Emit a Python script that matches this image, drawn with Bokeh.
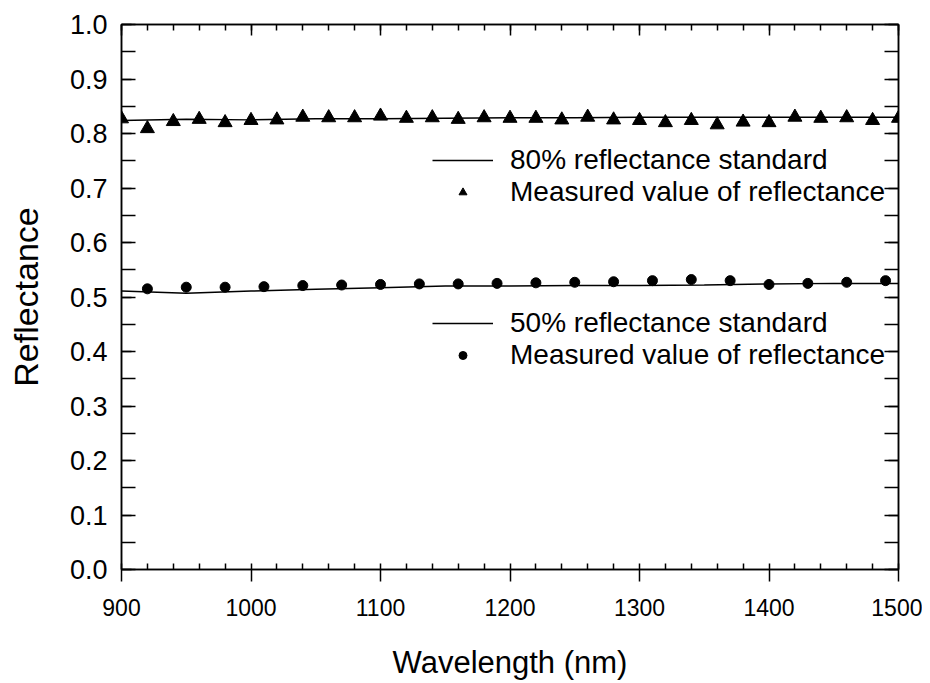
from bokeh.plotting import figure
from bokeh.models import (LinearAxis, Range1d, Legend, LegendItem, SingleIntervalTicker,
                          PrintfTickFormatter, CustomJSTickFormatter)
from bokeh.embed import file_html
from bokeh.resources import INLINE

# 80% reflectance standard (certified curve)
std80_wl = [900, 950, 1000, 1050, 1100, 1150, 1200, 1250, 1300, 1350, 1400, 1450, 1500]
std80_r = [0.824, 0.826, 0.825, 0.827, 0.827, 0.828, 0.829, 0.829, 0.830, 0.830, 0.830, 0.830, 0.830]

# measured values (triangles)
meas80_wl = [900, 920, 940, 960, 980, 1000, 1020, 1040, 1060, 1080, 1100, 1120, 1140, 1160, 1180,
             1200, 1220, 1240, 1260, 1280, 1300, 1320, 1340, 1360, 1380, 1400, 1420, 1440, 1460, 1480, 1500]
meas80_r = [0.827, 0.809, 0.822, 0.826, 0.820, 0.824, 0.825, 0.830, 0.829, 0.829, 0.832, 0.828, 0.829, 0.826, 0.829,
            0.828, 0.828, 0.825, 0.830, 0.825, 0.824, 0.820, 0.824, 0.816, 0.821, 0.820, 0.830, 0.828, 0.829, 0.824, 0.828]

# 50% reflectance standard
std50_wl = [900, 950, 1000, 1050, 1100, 1150, 1200, 1250, 1300, 1350, 1400, 1450, 1500]
std50_r = [0.511, 0.507, 0.511, 0.514, 0.517, 0.520, 0.520, 0.521, 0.521, 0.522, 0.524, 0.525, 0.525]

# measured values (circles)
meas50_wl = [920, 950, 980, 1010, 1040, 1070, 1100, 1130, 1160, 1190,
             1220, 1250, 1280, 1310, 1340, 1370, 1400, 1430, 1460, 1490]
meas50_r = [0.515, 0.518, 0.518, 0.519, 0.521, 0.522, 0.523, 0.524, 0.524, 0.525,
            0.526, 0.527, 0.528, 0.530, 0.532, 0.530, 0.523, 0.525, 0.527, 0.530]

FONT = "Liberation Sans"

p = figure(frame_width=777, frame_height=545, output_backend="svg", toolbar_location=None,
           x_range=Range1d(900, 1500), y_range=Range1d(0, 1.0),
           min_border_left=121, min_border_top=24, min_border_right=24, min_border_bottom=98,
           x_axis_type=None, y_axis_type=None)
p.grid.visible = False
p.outline_line_color = "black"
p.outline_line_width = 1.5
p.background_fill_color = "white"
p.border_fill_color = "white"

blank = CustomJSTickFormatter(code="return '';")

def style_axis(ax, labels=True):
    ax.axis_line_color = "black"
    ax.axis_line_width = 1.5
    ax.major_tick_line_color = "black"
    ax.minor_tick_line_color = "black"
    ax.major_tick_line_width = 1.5
    ax.minor_tick_line_width = 1.5
    if not labels:
        ax.formatter = blank
        ax.major_label_standoff = 0

xb = LinearAxis(ticker=SingleIntervalTicker(interval=100, num_minor_ticks=5))
style_axis(xb)
xb.major_tick_out = 12
xb.major_tick_in = 0
xb.minor_tick_in = 6
xb.minor_tick_out = 0
xb.major_label_text_font = FONT
xb.major_label_text_font_size = "23px"
xb.major_label_text_color = "black"
xb.major_label_standoff = 17
xb.axis_label = "Wavelength (nm)"
xb.axis_label_text_font = FONT
xb.axis_label_text_font_size = "31px"
xb.axis_label_text_font_style = "normal"
xb.axis_label_text_color = "black"
xb.axis_label_standoff = 26
p.add_layout(xb, "below")

xt = LinearAxis(ticker=SingleIntervalTicker(interval=100, num_minor_ticks=5))
style_axis(xt, labels=False)
xt.major_tick_in = 11
xt.major_tick_out = 0
xt.minor_tick_in = 6
xt.minor_tick_out = 0
p.add_layout(xt, "above")

yl = LinearAxis(ticker=SingleIntervalTicker(interval=0.1, num_minor_ticks=2),
                formatter=PrintfTickFormatter(format="%.1f"))
style_axis(yl)
yl.major_tick_in = 10
yl.major_tick_out = 0
yl.minor_tick_in = 14
yl.minor_tick_out = 0
yl.major_label_text_font = FONT
yl.major_label_text_font_size = "27px"
yl.major_label_text_color = "black"
yl.major_label_standoff = 14
yl.axis_label = "Reflectance"
yl.axis_label_text_font = FONT
yl.axis_label_text_font_size = "34px"
yl.axis_label_text_font_style = "normal"
yl.axis_label_text_color = "black"
yl.axis_label_standoff = 22
p.add_layout(yl, "left")

yr = LinearAxis(ticker=SingleIntervalTicker(interval=0.1, num_minor_ticks=2))
style_axis(yr, labels=False)
yr.major_tick_in = 10
yr.major_tick_out = 0
yr.minor_tick_in = 14
yr.minor_tick_out = 0
p.add_layout(yr, "right")

l80 = p.line(std80_wl, std80_r, line_color="black", line_width=1.5)
m80 = p.scatter(meas80_wl, meas80_r, marker="triangle", size=14, fill_color="black", line_color="black")
l50 = p.line(std50_wl, std50_r, line_color="black", line_width=1.5)
m50 = p.scatter(meas50_wl, meas50_r, marker="circle", size=10, fill_color="black", line_color="black")

def make_legend(items, loc):
    lg = Legend(items=items, location=loc, orientation="vertical",
                label_text_font=FONT, label_text_font_size="28px", label_text_color="black",
                glyph_width=61, glyph_height=20, label_height=31, label_standoff=17,
                spacing=0, padding=0, margin=0,
                border_line_color=None, background_fill_alpha=0)
    return lg

lg1 = make_legend([LegendItem(label="80% reflectance standard", renderers=[l80]),
                   LegendItem(label="Measured value of reflectance", renderers=[m80])], (311, 361))
lg2 = make_legend([LegendItem(label="50% reflectance standard", renderers=[l50]),
                   LegendItem(label="Measured value of reflectance", renderers=[m50])], (311, 198))
p.add_layout(lg1, "center")
p.add_layout(lg2, "center")

open("out.html", "w").write(file_html(p, INLINE))
